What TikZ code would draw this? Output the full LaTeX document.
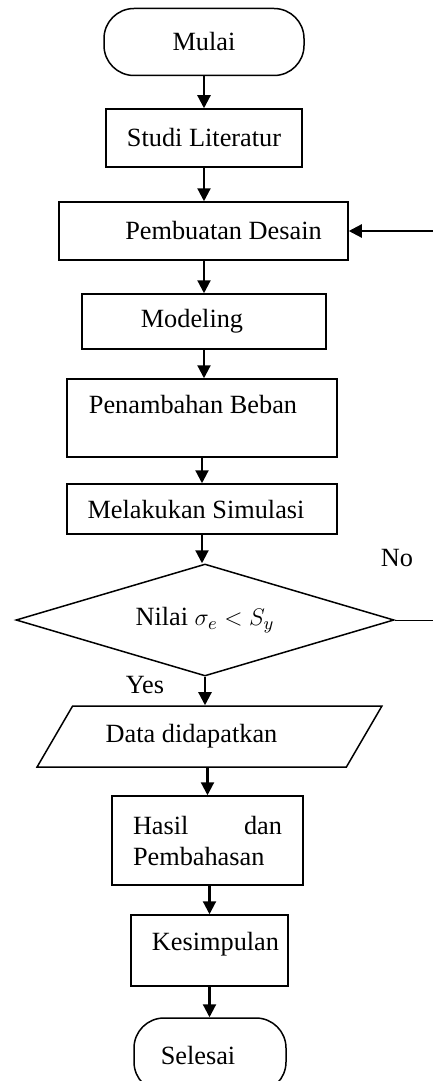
\documentclass[tikz,border=0pt]{standalone}
\usepackage{fontspec}
\setmainfont{Liberation Serif}
\usetikzlibrary{arrows.meta,shapes.geometric,calc}

\begin{document}
\begin{tikzpicture}[x=0.5pt,y=-0.5pt,
    every node/.style={font=\fontsize{13.15}{15.5}\selectfont},
    box/.style={draw,line width=0.75pt,inner sep=0pt},
    terminal/.style={box,rounded corners=15pt},
    decision/.style={box,diamond,aspect=3.4},
    io/.style={box,trapezium,trapezium left angle=41.5,trapezium right angle=138.5,trapezium stretches},
    arr/.style={line width=1.1pt,-{Triangle[length=6.5pt,width=6.5pt]}}]
    \useasboundingbox (0,0) rectangle (433,1081);
    % langkah-langkah
    \node[terminal,minimum width=100pt,minimum height=33.5pt] (mulai) at (204,42) {Mulai};
    \node[box,minimum width=98pt,minimum height=29pt] (studi) at (204,138) {Studi Literatur};
    \node[box,minimum width=144.5pt,minimum height=29pt] (desain) at (203.5,231) {\hspace*{20pt}Pembuatan Desain};
    \node[box,minimum width=122pt,minimum height=27.5pt] (modeling) at (204,321.5) {Modeling\hspace*{12pt}};
    \node[box,minimum width=135pt,minimum height=39pt,align=center] (beban) at (202,418) {Penambahan Beban\hspace*{9pt}\\[-2pt]\mbox{}};
    \node[box,minimum width=135pt,minimum height=25pt] (simulasi) at (202,509) {Melakukan Simulasi\hspace*{6pt}};
    \node[decision,minimum width=189pt,minimum height=56pt] (cek) at (205,620) {Nilai $\sigma_e < S_y$};
    \node[io,minimum width=172.5pt,minimum height=30.5pt] (data) at (209.5,736.5) {Data didapatkan\hspace*{18pt}};
    \node[box,minimum width=95.5pt,minimum height=44.5pt,text width=74.5pt,align=left] (hasil) at (207.5,840.5) {Hasil\hfill dan\\Pembahasan};
    \node[box,minimum width=78.5pt,minimum height=35.5pt,align=center] (kesimpulan) at (209.5,950.5) {\hspace*{6pt}Kesimpulan\\[-6pt]\mbox{}};
    \node[terminal,minimum width=76pt,minimum height=37pt] (selesai) at (210,1055) {Selesai\hspace*{12pt}};
    % keterangan
    \node (no) at (397,558) {No};
    \node (yes) at (145,685) {Yes};
    % panah
    \draw[arr] (mulai.south) -- (studi.north);
    \draw[arr] (studi.south) -- (studi.south |- desain.north);
    \draw[arr] (studi.south |- desain.south) -- (modeling.north);
    \draw[arr] (modeling.south) -- (modeling.south |- beban.north);
    \draw[arr] (beban.south) -- (simulasi.north);
    \draw[arr] (simulasi.south) -- (simulasi.south |- cek.north);
    \draw[arr] (cek.south) -- (cek.south |- data.north);
    \draw[arr] (hasil.north |- data.south) -- (hasil.north);
    \draw[arr] (kesimpulan.north |- hasil.south) -- (kesimpulan.north);
    \draw[arr] (kesimpulan.south) -- (kesimpulan.south |- selesai.north);
    % umpan balik
    \coordinate (kanan) at (433,231);
    \coordinate (keluar) at (433,620);
    \draw[arr] (kanan) -- (desain.east);
    \draw[line width=0.5pt] (cek.east) -- (keluar);
\end{tikzpicture}
\end{document}
